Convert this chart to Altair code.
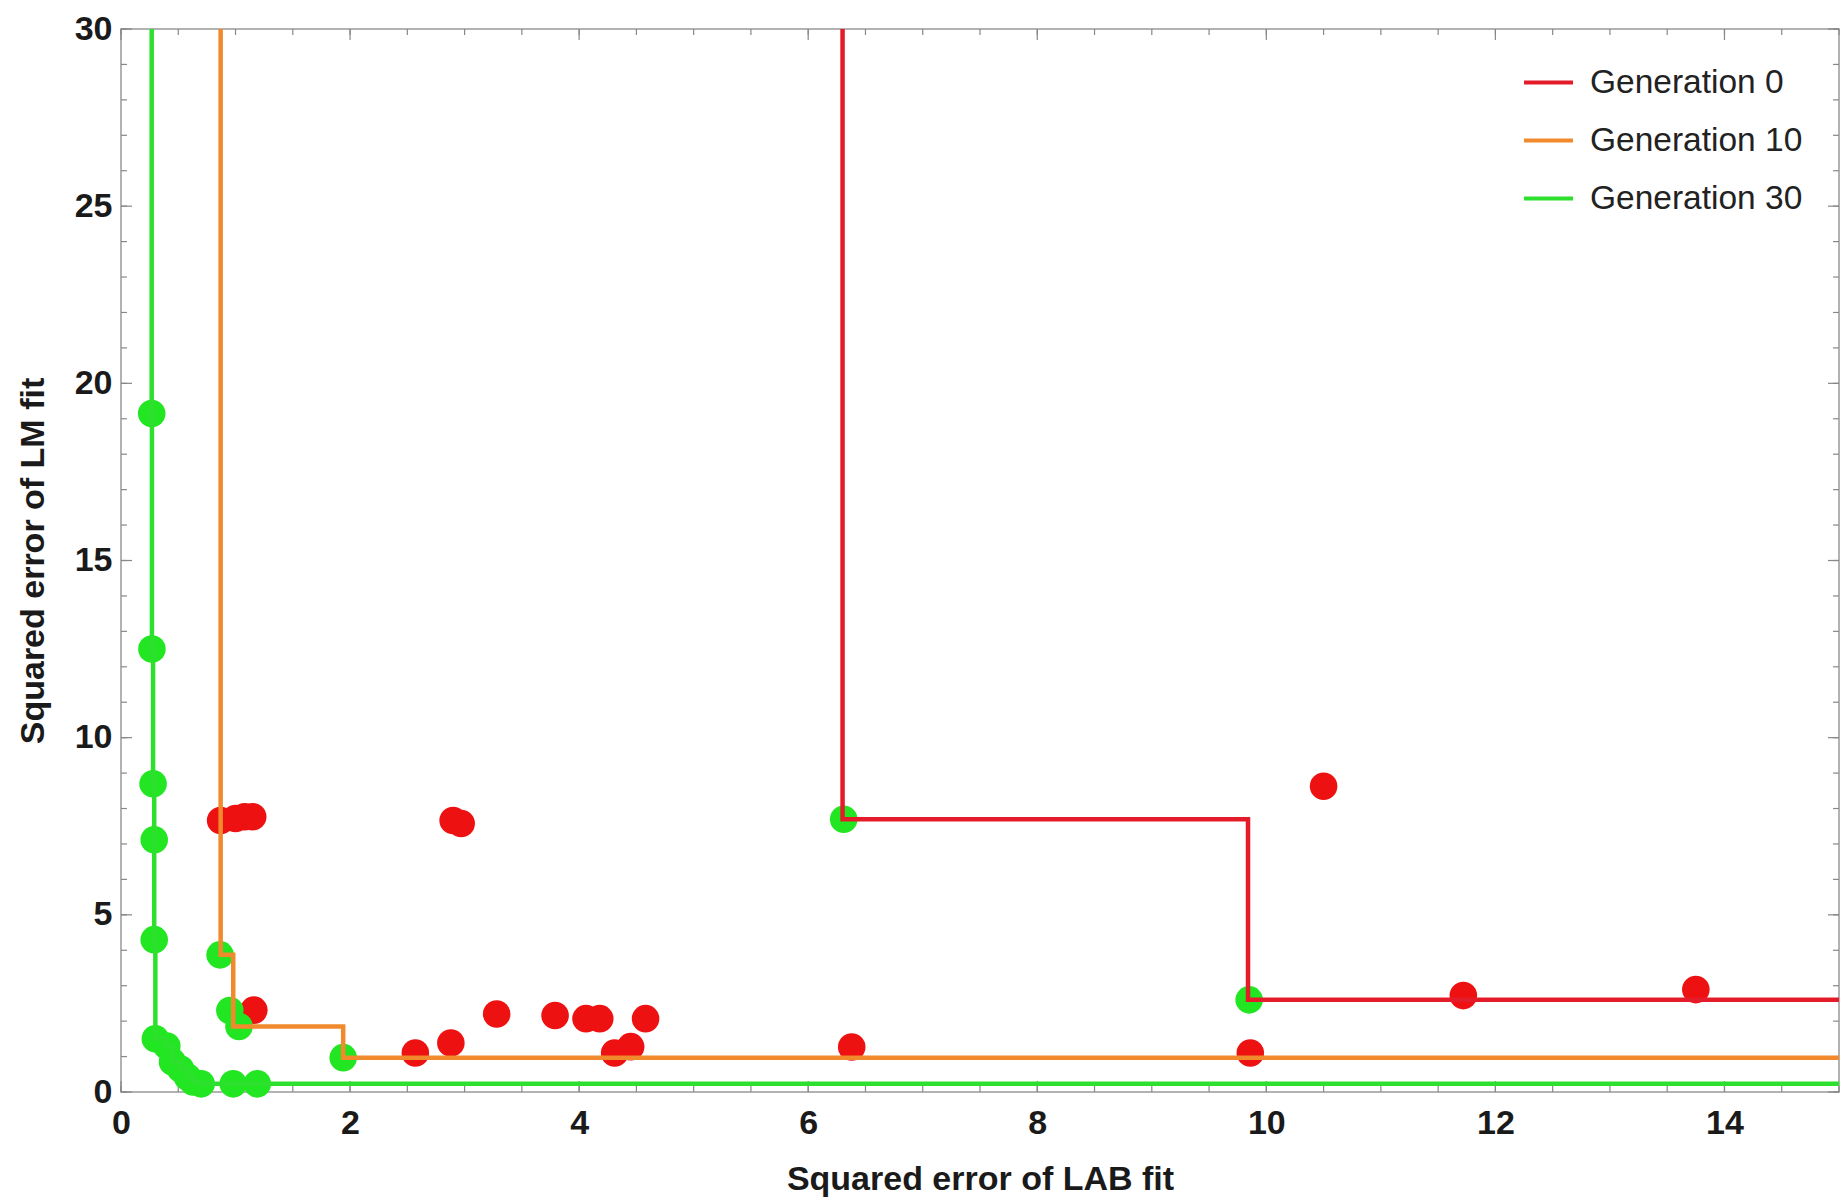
import altair as alt
import pandas as pd

# ---- data ----
# Generation 0 population (red points)
gen0_x = [0.87, 1.00, 1.08, 1.15, 2.90, 2.97, 1.16, 2.57, 2.88, 3.28, 3.79,
          4.06, 4.18, 4.31, 4.45, 4.58, 6.38, 9.86, 10.50, 11.72, 13.75]
gen0_y = [7.66, 7.72, 7.77, 7.77, 7.66, 7.58, 2.31, 1.10, 1.38, 2.20, 2.16,
          2.07, 2.07, 1.10, 1.28, 2.07, 1.27, 1.10, 8.63, 2.72, 2.89]

# Pareto-front points (green points)
front_x = [0.268, 0.27, 0.28, 0.29, 0.29, 0.30, 0.40, 0.45, 0.52, 0.58, 0.63,
           0.70, 0.98, 1.19, 0.865, 0.95, 1.03, 1.94, 6.31, 9.85]
front_y = [19.15, 12.5, 8.7, 7.12, 4.3, 1.5, 1.3, 0.85, 0.65, 0.42, 0.28,
           0.23, 0.23, 0.23, 3.87, 2.3, 1.85, 0.97, 7.70, 2.60]

# Pareto fronts (step lines)
gen0_front_x = [6.30, 9.84]
gen0_front_y = [7.70, 2.60]
gen10_front_x = [0.87, 0.98, 1.94]
gen10_front_y = [3.87, 1.85, 0.97]
gen30_front_x = [0.268, 0.268, 0.27, 0.28, 0.29, 0.29, 0.30, 0.40, 0.45, 0.52,
                 0.58, 0.63, 0.70]
gen30_front_y = [30.0, 19.15, 12.5, 8.7, 7.12, 4.3, 1.5, 1.3, 0.85, 0.65,
                 0.42, 0.28, 0.23]

series_names = ["Generation 0", "Generation 10", "Generation 30"]
series_colors = ["#E41C2A", "#F08A2C", "#2EE02E"]

X_MAX = 15
Y_MAX = 30
x_major = list(range(0, 15, 2))
x_minor = [i * 0.5 for i in range(0, 31)]
y_major = list(range(0, 31, 5))
y_minor = list(range(0, 31))

W, H = 1718, 1063

# ---- build tables ----
def front_rows(name, xs, ys):
    rows = []
    pts = list(zip(xs, ys))
    # extend to the frame: start at top of y-domain, end at right of x-domain
    full = [(pts[0][0], Y_MAX)] + pts + [(X_MAX, pts[-1][1])]
    for i, (x, y) in enumerate(full):
        rows.append({"x": x, "y": y, "series": name, "idx": i})
    return rows

lines = pd.DataFrame(
    front_rows(series_names[0], gen0_front_x, gen0_front_y)
    + front_rows(series_names[1], gen10_front_x, gen10_front_y)
    + front_rows(series_names[2], gen30_front_x, gen30_front_y)
)
red_pts = pd.DataFrame({"x": gen0_x, "y": gen0_y})
green_pts = pd.DataFrame({"x": front_x, "y": front_y})

xscale = alt.Scale(domain=[0, X_MAX], nice=False, zero=False)
yscale = alt.Scale(domain=[0, Y_MAX], nice=False, zero=False)
xaxis = alt.Axis(values=x_major, title="Squared error of LAB fit", format="d", labelFlush=False)
yaxis = alt.Axis(values=y_major, title="Squared error of LM fit", format="d", labelFlush=False)

X = alt.X("x:Q", scale=xscale, axis=xaxis)
Y = alt.Y("y:Q", scale=yscale, axis=yaxis)

PT = 760
red_layer = alt.Chart(red_pts).mark_circle(size=PT, opacity=1, color="#EE1111").encode(x=X, y=Y)
green_layer = alt.Chart(green_pts).mark_circle(size=PT, opacity=1, color="#22E622").encode(x=X, y=Y)

line_layer = alt.Chart(lines).mark_line(interpolate="step-after", strokeWidth=4.5, clip=True).encode(
    x=X, y=Y,
    order=alt.Order("idx:Q"),
    color=alt.Color(
        "series:N",
        scale=alt.Scale(domain=series_names, range=series_colors),
        legend=alt.Legend(
            title=None, orient="none", legendX=1401, legendY=27,
            symbolType="stroke", symbolSize=2400, symbolStrokeWidth=4,
            labelFontSize=33.5, labelFont="Liberation Sans", labelColor="#222",
            labelOffset=15, rowPadding=15, padding=0, labelLimit=0,
        ),
    ),
)

# inward frame ticks
def tick_df(vals):
    return pd.DataFrame({"v": vals})

TK = "#888888"
XT = alt.X("v:Q", scale=xscale, axis=xaxis)
YT = alt.Y("v:Q", scale=yscale, axis=yaxis)
ticks = []
for vals, ln in [(x_minor, 6), (x_major, 11)]:
    ticks.append(alt.Chart(tick_df(vals)).mark_rule(color=TK, strokeWidth=1.2).encode(
        x=XT, y=alt.value(H), y2=alt.value(H - ln)))
    ticks.append(alt.Chart(tick_df(vals)).mark_rule(color=TK, strokeWidth=1.2).encode(
        x=XT, y=alt.value(0), y2=alt.value(ln)))
for vals, ln in [(y_minor, 6), (y_major, 11)]:
    ticks.append(alt.Chart(tick_df(vals)).mark_rule(color=TK, strokeWidth=1.2).encode(
        y=YT, x=alt.value(0), x2=alt.value(ln)))
    ticks.append(alt.Chart(tick_df(vals)).mark_rule(color=TK, strokeWidth=1.2).encode(
        y=YT, x=alt.value(W), x2=alt.value(W - ln)))

chart = alt.layer(*ticks, red_layer, green_layer, line_layer).properties(
    width=W, height=H,
    autosize=alt.AutoSizeParams(type="none"),
    padding={"left": 121, "top": 29, "right": 4, "bottom": 109},
).configure_view(
    stroke="#999999", strokeWidth=1.5
).configure_axis(
    grid=False, domain=False, ticks=False,
    labelFont="Liberation Sans", labelFontWeight="bold", labelFontSize=34,
    labelColor="#1a1a1a",
    titleFont="Liberation Sans", titleFontWeight="bold", titleFontSize=34,
    titleColor="#1a1a1a",
).configure_axisX(
    labelPadding=14, titlePadding=22,
).configure_axisY(
    labelPadding=9, titlePadding=24,
)

chart.save("out.html", embed_options={"renderer": "svg", "actions": False})
